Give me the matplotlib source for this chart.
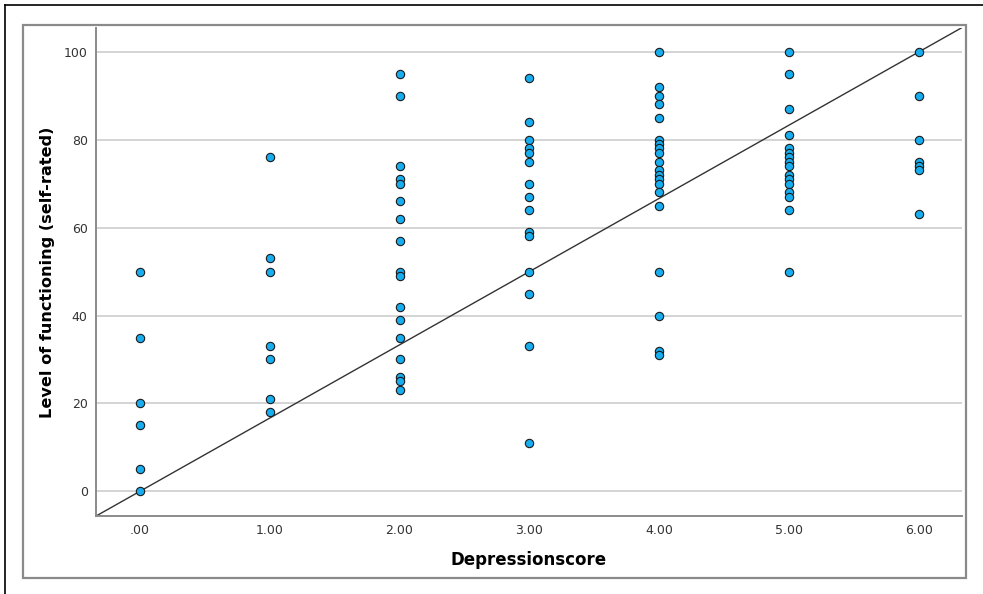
import matplotlib
matplotlib.use("Agg")
import matplotlib.pyplot as plt
from matplotlib.lines import Line2D
from matplotlib.patches import Rectangle

# ---- data ----
depression_scores = [0, 1, 2, 3, 4, 5, 6]
x_tick_labels = [".00", "1.00", "2.00", "3.00", "4.00", "5.00", "6.00"]
y_ticks = [0, 20, 40, 60, 80, 100]

functioning_0 = [50, 35, 20, 15, 5, 0]
functioning_1 = [76, 53, 50, 33, 30, 21, 18]
functioning_2 = [95, 90, 74, 71, 70, 66, 62, 57, 50, 49, 42, 39, 35, 30, 26, 25, 23]
functioning_3 = [94, 84, 80, 78, 77, 75, 70, 67, 64, 59, 58, 50, 45, 33, 11]
functioning_4 = [100, 92, 90, 88, 85, 80, 79, 78, 77, 75, 73, 72, 71, 70, 68, 65,
                 50, 40, 32, 31]
functioning_5 = [100, 95, 87, 81, 78, 77, 76, 75, 74, 72, 71, 70, 68, 67, 64, 50]
functioning_6 = [100, 90, 80, 75, 74, 73, 63]

fit_intercept = 0.0
fit_slope = 100 / 6

columns = [functioning_0, functioning_1, functioning_2, functioning_3,
           functioning_4, functioning_5, functioning_6]

xs, ys = [], []
for score, vals in zip(depression_scores, columns):
    xs += [score] * len(vals)
    ys += vals

fig = plt.figure(figsize=(9.83, 5.94), dpi=100)
W, H = 983, 594

# outer frame lines (top & left black), inner gray frame
fig.add_artist(Line2D([5 / W, 5 / W], [0, 1 - 5 / H], color="black", lw=1.2,
                      transform=fig.transFigure))
fig.add_artist(Line2D([5 / W, 1], [1 - 5 / H, 1 - 5 / H], color="black", lw=1.2,
                      transform=fig.transFigure))
fig.add_artist(Rectangle((23 / W, 1 - 578 / H), (966 - 23) / W, (578 - 25) / H,
                         fill=False, edgecolor="#8a8a8a", lw=1.6,
                         transform=fig.transFigure))

ax = fig.add_axes([96 / W, 1 - 516 / H, (962 - 96) / W, (516 - 28) / H])

ax.set_xlim(-0.337, 6.33)
ax.set_ylim(-5.6, 105.4)

ax.yaxis.grid(True, color="#d4d4d4", lw=1.4)
ax.set_axisbelow(True)

ax.axline((0, fit_intercept), slope=fit_slope, color="#333333", lw=1.0, zorder=2)

ax.scatter(xs, ys, s=36, facecolor="#17ADEE", edgecolor="#1a1a1a",
           linewidths=0.8, zorder=3)

ax.set_xticks(depression_scores)
ax.set_xticklabels(x_tick_labels)
ax.set_yticks(y_ticks)
ax.tick_params(length=0, labelsize=9, labelcolor="#333333", pad=6)
ax.tick_params(axis="x", pad=6)

for side in ["top", "right"]:
    ax.spines[side].set_visible(False)
for side in ["left", "bottom"]:
    ax.spines[side].set_color("#8a8a8a")
    ax.spines[side].set_linewidth(1.4)

ax.set_xlabel("Depressionscore", fontsize=12, fontweight="bold", labelpad=10)
ax.set_ylabel("Level of functioning (self-rated)", fontsize=11.6,
              fontweight="bold", labelpad=6)

fig.savefig("out.png", dpi=100)
